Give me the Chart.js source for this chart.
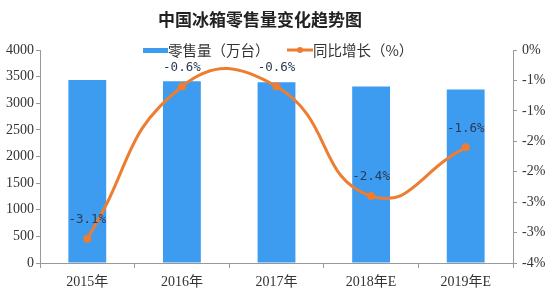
<!DOCTYPE html>
<html lang="zh">
<head>
    <meta charset="UTF-8">
    <script src="https://cdn.jsdelivr.net/npm/chart.js"></script>
    <title>中国冰箱零售量变化趋势图</title>
    <style>
        body { margin: 0; background: #fff; }
        #wrap { width: 549px; height: 308px; position: relative; }
    </style>
</head>
<body>
    <div id="wrap">
        <canvas id="myChart"></canvas>
    </div>

    <script>
        // 数据
        const years = ['2015年', '2016年', '2017年', '2018年E', '2019年E'];
        const sales = [3435, 3415, 3395, 3313, 3260];        // 零售量（万台）
        const growth = [-3.1, -0.6, -0.6, -2.4, -1.6];       // 同比增长（%）
        const rightTickLabels = ['0%', '-1%', '-1%', '-2%', '-2%', '-3%', '-3%', '-4%'];

        const titleText = '中国冰箱零售量变化趋势图';
        const barColor = '#3d9cf0';
        const lineColor = '#ed7d31';
        const tickFont = { family: "'Liberation Serif', 'Noto Sans CJK SC', serif", size: 14 };

        // 标题、图例、数据标签
        const decor = {
            id: 'decor',
            afterDatasetsDraw(chart) {
                const ctx = chart.ctx;
                ctx.save();
                // 标题
                ctx.fillStyle = '#222';
                ctx.font = "bold 17px 'Noto Sans CJK SC'";
                ctx.textAlign = 'center';
                ctx.textBaseline = 'middle';
                ctx.fillText(titleText, 260, 20);

                // 图例
                ctx.font = "14.5px 'Noto Sans CJK SC'";
                ctx.textAlign = 'left';
                ctx.fillStyle = barColor;
                ctx.fillRect(143, 48, 25, 5);
                ctx.fillStyle = '#333';
                ctx.fillText(chart.data.datasets[0].label, 168, 50);
                ctx.strokeStyle = lineColor;
                ctx.lineWidth = 3;
                ctx.beginPath();
                ctx.moveTo(287, 50);
                ctx.lineTo(313, 50);
                ctx.stroke();
                ctx.fillStyle = lineColor;
                ctx.beginPath();
                ctx.arc(300, 50, 3, 0, Math.PI * 2);
                ctx.fill();
                ctx.fillStyle = '#333';
                ctx.fillText(chart.data.datasets[1].label, 313, 50);

                // 数据标签
                const meta = chart.getDatasetMeta(1);
                ctx.font = "12.5px 'DejaVu Sans Mono'";
                ctx.textAlign = 'center';
                ctx.fillStyle = '#2b3a55';
                meta.data.forEach((pt, i) => {
                    ctx.fillText(growth[i].toFixed(1) + '%', pt.x, pt.y - 19);
                });
                ctx.restore();
            }
        };

        const ctx = document.getElementById('myChart').getContext('2d');
        const myChart = new Chart(ctx, {
            data: {
                labels: years,
                datasets: [{
                    type: 'bar',
                    label: '零售量（万台）',
                    data: sales,
                    yAxisID: 'y',
                    backgroundColor: barColor,
                    categoryPercentage: 1,
                    barPercentage: 0.4,
                    order: 1
                }, {
                    type: 'line',
                    label: '同比增长（%）',
                    data: growth,
                    yAxisID: 'y1',
                    borderColor: lineColor,
                    backgroundColor: lineColor,
                    borderWidth: 3,
                    pointRadius: 4,
                    pointBorderWidth: 0,
                    tension: 0.5,
                    order: 0
                }]
            },
            options: {
                responsive: true,
                maintainAspectRatio: false,
                animation: false,
                layout: { padding: { top: 50, left: 0, right: 0, bottom: 0 } },
                scales: {
                    x: {
                        grid: { display: true, drawOnChartArea: false, tickLength: 5, color: '#999' },
                        border: { color: '#999' },
                        ticks: { font: tickFont, color: '#333', padding: 6, maxRotation: 0 },
                        afterFit: s => { s.height = 45; }
                    },
                    y: {
                        position: 'left',
                        min: 0, max: 4000,
                        ticks: { stepSize: 500, font: tickFont, color: '#333', padding: 2, callback: v => String(v) },
                        grid: { drawOnChartArea: false, tickLength: 4, color: '#999' },
                        border: { color: '#999' },
                        afterFit: s => { s.width = 40; }
                    },
                    y1: {
                        position: 'right',
                        min: -3.5, max: 0,
                        ticks: {
                            stepSize: 0.5,
                            font: tickFont,
                            color: '#333',
                            padding: 5,
                            callback: (v, i, ticks) => rightTickLabels[ticks.length - 1 - i]
                        },
                        grid: { drawOnChartArea: false, tickLength: 4, color: '#999' },
                        border: { color: '#999' },
                        afterFit: s => { s.width = 36; }
                    }
                },
                plugins: {
                    legend: { display: false },
                    title: { display: false },
                    tooltip: { enabled: false }
                }
            },
            plugins: [decor]
        });
    </script>
</body>
</html>
